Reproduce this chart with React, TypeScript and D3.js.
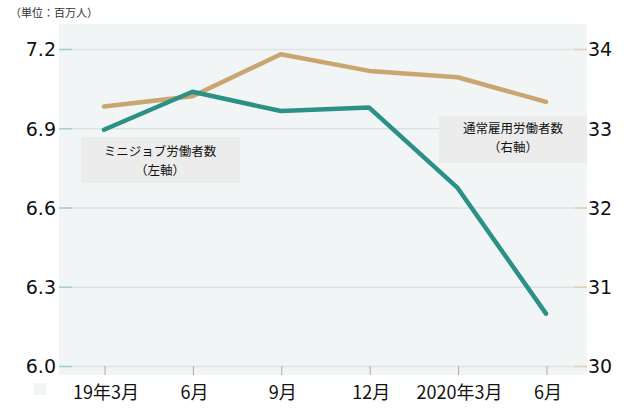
import React from "react";
import * as d3 from "d3";

const categories = ["19年3月", "6月", "9月", "12月", "2020年3月", "6月"];
const miniJobs = [6.896, 7.04, 6.967, 6.98, 6.676, 6.2];
const regularJobs = [33.28, 33.41, 33.94, 33.73, 33.65, 33.34];
const leftTicks = [6.0, 6.3, 6.6, 6.9, 7.2];
const rightTicks = [30, 31, 32, 33, 34];

const W = 626, H = 417;
const plot = { left: 59, right: 587, top: 24, bottom: 375 };
const TEAL = "#2b9086";
const TAN = "#c9a570";

export default function App() {
  const x = d3.scalePoint<number>().domain(d3.range(categories.length)).range([104, 546]);
  const yL = d3.scaleLinear().domain([6.0, 7.2]).range([366.5, 49.5]);
  const yR = d3.scaleLinear().domain([30, 34]).range([366.5, 49.5]);
  const lineL = d3.line<number>().x((_, i) => x(i)!).y((d) => yL(d));
  const lineR = d3.line<number>().x((_, i) => x(i)!).y((d) => yR(d));
  const numFont = "'DejaVu Sans', Verdana, sans-serif";
  const jpFont = "'Noto Sans CJK JP', sans-serif";

  return (
    <svg width={W} height={H} style={{ position: "absolute", left: 0, top: 0 }}>
      <rect x={0} y={0} width={W} height={H} fill="#fff" />
      <text x={10} y={17} fontSize={11} fontFamily={jpFont} fill="#333">（単位：百万人）</text>
      <rect x={plot.left} y={plot.top} width={plot.right - plot.left} height={plot.bottom - plot.top} fill="#f1f5f6" />
      {leftTicks.map((t) => (
        <g key={"g" + t}>
          <line x1={plot.left} x2={plot.right} y1={yL(t)} y2={yL(t)} stroke="#dfe2e3" strokeWidth={1.5} />
          <line x1={plot.left} x2={plot.left + 13} y1={yL(t)} y2={yL(t)} stroke="#a6d0cb" strokeWidth={1.5} />
          <text x={56} y={yL(t)} dy="0.36em" textAnchor="end" fontSize={19} fontFamily={numFont} fill="#111">{t.toFixed(1)}</text>
        </g>
      ))}
      {rightTicks.map((t) => (
        <g key={"r" + t}>
          <line x1={plot.right - 13} x2={plot.right} y1={yR(t)} y2={yR(t)} stroke="#e3d3b8" strokeWidth={1.5} />
          <text x={588} y={yR(t)} dy="0.36em" textAnchor="start" fontSize={19} fontFamily={numFont} fill="#111">{t}</text>
        </g>
      ))}
      {categories.map((c, i) => (
        <g key={"x" + i}>
          <line x1={x(i)! + 1} x2={x(i)! + 1} y1={366} y2={375} stroke="#aaa" strokeWidth={1} />
          <text x={x(i)! + 2} y={399} textAnchor="middle" fontSize={18} fontFamily={jpFont} fill="#111">{c}</text>
        </g>
      ))}
      <rect x={34} y={383} width={12} height={12} fill="#f1f5f6" />
      <path d={lineR(regularJobs)!} fill="none" stroke={TAN} strokeWidth={4.5} strokeLinecap="round" strokeLinejoin="round" />
      <path d={lineL(miniJobs)!} fill="none" stroke={TEAL} strokeWidth={4.5} strokeLinecap="round" strokeLinejoin="round" />
      <rect x={81} y={137} width={159} height={46} fill="#ececec" />
      <text x={160} y={156} textAnchor="middle" fontSize={12.5} fontFamily={jpFont} fill="#111">ミニジョブ労働者数</text>
      <text x={160} y={175} textAnchor="middle" fontSize={12.5} fontFamily={jpFont} fill="#111">（左軸）</text>
      <rect x={439} y={116} width={148} height={47} fill="#ececec" />
      <text x={513} y={133} textAnchor="middle" fontSize={12.5} fontFamily={jpFont} fill="#111">通常雇用労働者数</text>
      <text x={513} y={152} textAnchor="middle" fontSize={12.5} fontFamily={jpFont} fill="#111">（右軸）</text>
    </svg>
  );
}
